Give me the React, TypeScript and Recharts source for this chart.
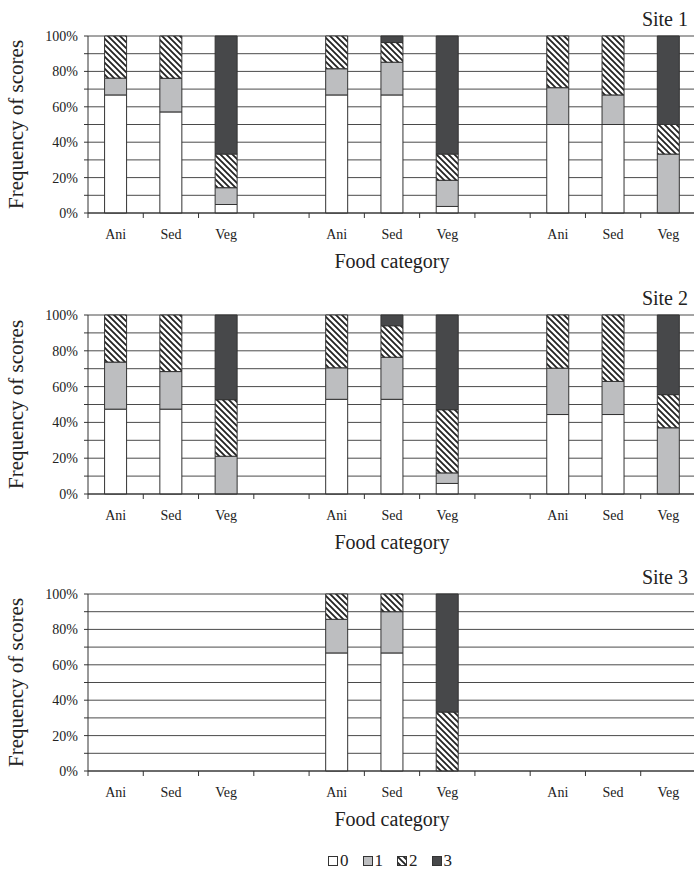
import React from "react";
import { BarChart, Bar, XAxis, YAxis, CartesianGrid } from "recharts";

// Food categories per slot, blank slots separate the three groups
const categories = ["Ani", "Sed", "Veg", "", "Ani", "Sed", "Veg", "", "Ani", "Sed", "Veg"];
const yTicks = [0, 10, 20, 30, 40, 50, 60, 70, 80, 90, 100];
const scoreNames = ["0", "1", "2", "3"];

// Site 1 - frequency of scores (%)
const site1Score0 = [66.7, 57.1, 4.8, null, 66.7, 66.7, 3.7, null, 50, 50, 0];
const site1Score1 = [9.5, 19.0, 9.5, null, 14.8, 18.5, 14.8, null, 20.8, 16.7, 33.3];
const site1Score2 = [23.8, 23.9, 19.0, null, 18.5, 11.1, 14.8, null, 29.2, 33.3, 16.7];
const site1Score3 = [0, 0, 66.7, null, 0, 3.7, 66.7, null, 0, 0, 50];

// Site 2
const site2Score0 = [47.4, 47.4, 0, null, 52.9, 52.9, 5.9, null, 44.4, 44.4, 0];
const site2Score1 = [26.3, 21.0, 21.1, null, 17.6, 23.5, 5.9, null, 25.9, 18.5, 37.0];
const site2Score2 = [26.3, 31.6, 31.6, null, 29.5, 17.6, 35.3, null, 29.7, 37.1, 18.5];
const site2Score3 = [0, 0, 47.3, null, 0, 6.0, 52.9, null, 0, 0, 44.5];

// Site 3 (only the middle group was sampled)
const site3Score0 = [null, null, null, null, 66.7, 66.7, 0, null, null, null, null];
const site3Score1 = [null, null, null, null, 19.0, 23.3, 0, null, null, null, null];
const site3Score2 = [null, null, null, null, 14.3, 10.0, 33.3, null, null, null, null];
const site3Score3 = [null, null, null, null, 0, 0, 66.7, null, null, null, null];

const buildRows = (s0: any[], s1: any[], s2: any[], s3: any[]) =>
  categories.map((label, i) => ({ slot: i, label, s0: s0[i], s1: s1[i], s2: s2[i], s3: s3[i] }));

const sites = [
  { name: "Site 1", top: 0, bottom: 7, rows: buildRows(site1Score0, site1Score1, site1Score2, site1Score3) },
  { name: "Site 2", top: 279, bottom: 5, rows: buildRows(site2Score0, site2Score1, site2Score2, site2Score3) },
  { name: "Site 3", top: 558, bottom: 7, rows: buildRows(site3Score0, site3Score1, site3Score2, site3Score3) },
];

const FONT = "'Liberation Serif', 'Times New Roman', serif";
const TEXT = "#222";
const LINE = "#333";
const CHART_W = 696;
const Y_W = 88;
const BAND = (CHART_W - Y_W) / categories.length;

const FoodTick = (props: any) => {
  const { x, y, payload } = props;
  const half = payload && payload.offset ? payload.offset : BAND / 2;
  return (
    <g>
      <line x1={x - half} x2={x - half} y1={y} y2={y + 5} stroke={LINE} />
      <text x={x} y={y + 21} dy="0.35em" textAnchor="middle" fill={TEXT} fontSize={14} fontFamily={FONT}>
        {categories[payload.value]}
      </text>
    </g>
  );
};

const Hatch = ({ id }: { id: string }) => (
  <pattern id={id} patternUnits="userSpaceOnUse" width="6" height="6">
    <rect width="6" height="6" fill="#fff" />
    <path d="M-1,-1 L7,7 M-4,2 L2,8 M2,-4 L8,2" stroke="#222" strokeWidth="1.8" />
  </pattern>
);

const SitePanel = ({ site, idx }: { site: any; idx: number }) => (
  <div style={{ position: "absolute", left: 0, top: site.top, width: 694, height: 280 }}>
    <BarChart
      width={CHART_W}
      height={280}
      data={site.rows}
      margin={{ top: 36, right: 0, bottom: site.bottom, left: 0 }}
      barCategoryGap="30%"
      style={{ fontFamily: FONT }}
    >
      <defs>
        <Hatch id={`hatch${idx}`} />
      </defs>
      <CartesianGrid vertical={false} stroke="#4a4a4a" />
      <XAxis
        dataKey="slot"
        type="category"
        interval={0}
        tickSize={0}
        tickMargin={0}
        tickLine={false}
        tick={<FoodTick />}
        axisLine={{ stroke: LINE }}
        height={60}
        label={{ value: "Food category", position: "insideBottom", offset: 5, fill: TEXT, fontSize: 20, fontFamily: FONT }}
      />
      <YAxis
        domain={[0, 100]}
        ticks={yTicks}
        interval={0}
        width={Y_W}
        tickSize={4}
        tickMargin={6}
        tickFormatter={(v: number) => (v % 20 === 0 ? `${v}%` : "")}
        tick={{ fill: TEXT, fontSize: 14, fontFamily: FONT }}
        axisLine={{ stroke: LINE }}
        tickLine={{ stroke: LINE }}
        label={{
          value: "Frequency of scores",
          angle: -90,
          position: "insideLeft",
          offset: 16,
          fill: TEXT,
          fontSize: 21,
          fontFamily: FONT,
          textAnchor: "middle",
          style: { textAnchor: "middle" },
        }}
      />
      <Bar dataKey="s0" name="0" stackId="a" fill="#ffffff" stroke={LINE} isAnimationActive={false} />
      <Bar dataKey="s1" name="1" stackId="a" fill="#bdbec0" stroke={LINE} isAnimationActive={false} />
      <Bar dataKey="s2" name="2" stackId="a" fill={`url(#hatch${idx})`} stroke={LINE} isAnimationActive={false} />
      <Bar dataKey="s3" name="3" stackId="a" fill="#47484a" stroke={LINE} isAnimationActive={false} />
    </BarChart>
    <div style={{ position: "absolute", right: 6, top: 8, fontSize: 20, lineHeight: "22px", color: TEXT, fontFamily: FONT }}>
      {site.name}
    </div>
  </div>
);

const legendFills = ["#ffffff", "#bdbec0", "url(#hatchLegend)", "#47484a"];

export default function App() {
  return (
    <div
      style={{
        position: "absolute",
        left: 0,
        top: 0,
        width: 694,
        height: 871,
        overflow: "hidden",
        background: "#fff",
        fontFamily: FONT,
      }}
    >
      {sites.map((s, i) => (
        <SitePanel key={s.name} site={s} idx={i} />
      ))}
      <div style={{ position: "absolute", left: 328, top: 852, display: "flex", alignItems: "center", gap: 14, color: TEXT }}>
        {scoreNames.map((n, i) => (
          <div key={n} style={{ display: "flex", alignItems: "center", gap: 2 }}>
            <svg width={10} height={10}>
              <defs>
                <Hatch id="hatchLegend" />
              </defs>
              <rect x={0.5} y={0.5} width={9} height={9} fill={legendFills[i]} stroke={LINE} />
            </svg>
            <span style={{ fontSize: 17, lineHeight: "18px", fontFamily: FONT }}>{n}</span>
          </div>
        ))}
      </div>
    </div>
  );
}
